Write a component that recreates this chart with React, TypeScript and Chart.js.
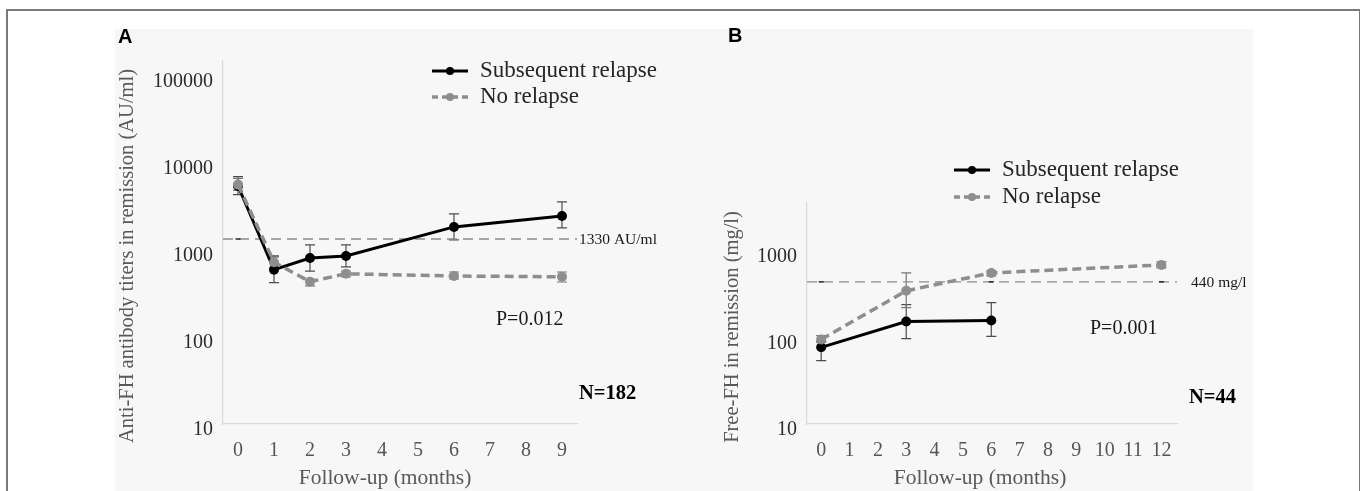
import React, { useEffect, useRef } from "react";
import { Chart, registerables } from "chart.js";

Chart.register(...registerables);

const SERIF = '"Liberation Serif", "Times New Roman", serif';
const SANS = '"Liberation Sans", Arial, sans-serif';

// ---------- Panel A data (anti-FH antibody titers, AU/ml) ----------
const xTicksA = [0, 1, 2, 3, 4, 5, 6, 7, 8, 9];
const yTicksA = [10, 100, 1000, 10000, 100000];
const monthsA = [0, 1, 2, 3, 6, 9];
const relapseA = [5400, 590, 805, 850, 1830, 2440];
const relapseALow = [4300, 420, 570, 635, 1300, 1780];
const relapseAHigh = [6900, 830, 1140, 1140, 2580, 3540];
const noRelapseA = [5600, 720, 430, 530, 500, 490];
const noRelapseALow = [4800, 620, 385, 487, 462, 427];
const noRelapseAHigh = [6600, 860, 462, 571, 556, 556];
const thresholdA = 1330;
const thresholdMarksA = [0];

// ---------- Panel B data (free FH, mg/l) ----------
const xTicksB = [0, 1, 2, 3, 4, 5, 6, 7, 8, 9, 10, 11, 12];
const yTicksB = [10, 100, 1000];
const monthsRelapseB = [0, 3, 6];
const relapseB = [77, 153, 157];
const relapseBLow = [54, 97, 103];
const relapseBHigh = [90, 240, 253];
const monthsNoRelapseB = [0, 3, 6, 12];
const noRelapseB = [95, 347, 558, 690];
const noRelapseBLow = [88, 221, 516, 638];
const noRelapseBHigh = [105, 558, 589, 748];
const thresholdB = 440;
const thresholdMarksB = [0, 6, 12];

const seriesLabels = ["Subsequent relapse", "No relapse"];

type Series = {
  label: string;
  months: number[];
  values: number[];
  low: number[];
  high: number[];
  color: string;
  dash: number[];
  width: number;
  errColor: string;
  order: number;
};

type Spec = {
  left: number;
  top: number;
  width: number;
  height: number;
  area: { left: number; right: number; top: number; bottom: number };
  xMin: number;
  xMax: number;
  xTicks: number[];
  yMin: number;
  yMax: number;
  yTicks: number[];
  series: Series[];
  threshold: number;
  thresholdMarks: number[];
  thresholdLabel: string;
  thresholdLabelPos: [number, number];
  letter: string;
  letterPos: [number, number];
  yTitle: string;
  yTitlePos: [number, number];
  xTitle: string;
  xTitlePos: [number, number];
  legendPos: [number, number];
  legendGap: number;
  pText: string;
  pPos: [number, number];
  nText: string;
  nPos: [number, number];
};

const BLACK = "#000000";
const GREY = "#8e8e8e";

const specA: Spec = {
  left: 112,
  top: 0,
  width: 603,
  height: 491,
  area: { left: 223, right: 577, top: 61, bottom: 424 },
  xMin: -0.417,
  xMax: 9.417,
  xTicks: xTicksA,
  yMin: 10,
  yMax: 147000,
  yTicks: yTicksA,
  series: [
    { label: seriesLabels[0], months: monthsA, values: relapseA, low: relapseALow, high: relapseAHigh, color: BLACK, dash: [], width: 3, errColor: "#4d4d4d", order: 1 },
    { label: seriesLabels[1], months: monthsA, values: noRelapseA, low: noRelapseALow, high: noRelapseAHigh, color: GREY, dash: [9, 5], width: 3.5, errColor: "#777777", order: 0 },
  ],
  threshold: thresholdA,
  thresholdMarks: thresholdMarksA,
  thresholdLabel: "1330 AU/ml",
  thresholdLabelPos: [579, 240],
  letter: "A",
  letterPos: [118, 37],
  yTitle: "Anti-FH antibody titers in remission (AU/ml)",
  yTitlePos: [128, 256],
  xTitle: "Follow-up (months)",
  xTitlePos: [385, 478],
  legendPos: [432, 71],
  legendGap: 26,
  pText: "P=0.012",
  pPos: [496, 320],
  nText: "N=182",
  nPos: [579, 394],
};

const specB: Spec = {
  left: 718,
  top: 0,
  width: 642,
  height: 491,
  area: { left: 807, right: 1177, top: 203, bottom: 424 },
  xMin: -0.5,
  xMax: 12.55,
  xTicks: xTicksB,
  yMin: 10,
  yMax: 3590,
  yTicks: yTicksB,
  series: [
    { label: seriesLabels[0], months: monthsRelapseB, values: relapseB, low: relapseBLow, high: relapseBHigh, color: BLACK, dash: [], width: 3, errColor: "#4d4d4d", order: 1 },
    { label: seriesLabels[1], months: monthsNoRelapseB, values: noRelapseB, low: noRelapseBLow, high: noRelapseBHigh, color: GREY, dash: [9, 5], width: 3.5, errColor: "#777777", order: 0 },
  ],
  threshold: thresholdB,
  thresholdMarks: thresholdMarksB,
  thresholdLabel: "440 mg/l",
  thresholdLabelPos: [1191, 283],
  letter: "B",
  letterPos: [728, 36],
  yTitle: "Free-FH in remission (mg/l)",
  yTitlePos: [733, 327],
  xTitle: "Follow-up (months)",
  xTitlePos: [980, 478],
  legendPos: [954, 170],
  legendGap: 27,
  pText: "P=0.001",
  pPos: [1090, 329],
  nText: "N=44",
  nPos: [1189, 398],
};

function buildConfig(spec: Spec): any {
  const ox = spec.left;
  const oy = spec.top;

  const thresholdPoints = [
    { x: spec.xMin, y: spec.threshold },
    ...spec.thresholdMarks.map((m) => ({ x: m, y: spec.threshold })),
    { x: spec.xMax, y: spec.threshold },
  ];

  const datasets: any[] = spec.series.map((s) => ({
    label: s.label,
    data: s.months.map((m, i) => ({ x: m, y: s.values[i] })),
    borderColor: s.color,
    backgroundColor: s.color,
    borderWidth: s.width,
    borderDash: s.dash,
    pointRadius: 5,
    pointBackgroundColor: s.color,
    pointBorderColor: s.color,
    pointBorderWidth: 0,
    tension: 0,
    fill: false,
    order: s.order,
  }));
  datasets.push({
    label: "threshold",
    data: thresholdPoints,
    borderColor: "#8c8c8c",
    borderWidth: 1.3,
    borderDash: [10, 6],
    pointStyle: "line",
    pointRadius: (ctx: any) => (ctx.dataIndex === 0 || ctx.dataIndex === thresholdPoints.length - 1 ? 0 : 2.5),
    pointBorderColor: "#222222",
    pointBorderWidth: 1.5,
    fill: false,
    order: 5,
  });

  const errorBars = {
    id: "errorBars" + spec.letter,
    beforeDatasetsDraw(chart: any) {
      const ctx = chart.ctx;
      const xs = chart.scales.x;
      const ys = chart.scales.y;
      ctx.save();
      ctx.setLineDash([]);
      spec.series.forEach((s) => {
        ctx.strokeStyle = s.errColor;
        ctx.lineWidth = 1.2;
        s.months.forEach((m, i) => {
          const x = xs.getPixelForValue(m);
          const yl = ys.getPixelForValue(s.low[i]);
          const yh = ys.getPixelForValue(s.high[i]);
          ctx.beginPath();
          ctx.moveTo(x, yl);
          ctx.lineTo(x, yh);
          ctx.moveTo(x - 5, yl);
          ctx.lineTo(x + 5, yl);
          ctx.moveTo(x - 5, yh);
          ctx.lineTo(x + 5, yh);
          ctx.stroke();
        });
      });
      ctx.restore();
    },
  };

  const texts = {
    id: "texts" + spec.letter,
    afterDraw(chart: any) {
      const ctx = chart.ctx;
      ctx.save();
      ctx.textBaseline = "middle";

      // panel letter
      ctx.fillStyle = "#000";
      ctx.font = `bold 20px ${SANS}`;
      ctx.textAlign = "left";
      ctx.fillText(spec.letter, spec.letterPos[0] - ox, spec.letterPos[1] - oy);

      // y title
      ctx.save();
      ctx.translate(spec.yTitlePos[0] - ox, spec.yTitlePos[1] - oy);
      ctx.rotate(-Math.PI / 2);
      ctx.textAlign = "center";
      ctx.fillStyle = "#595959";
      ctx.font = `20.5px ${SERIF}`;
      ctx.fillText(spec.yTitle, 0, 0);
      ctx.restore();

      // x title
      ctx.textAlign = "center";
      ctx.fillStyle = "#595959";
      ctx.font = `21.5px ${SERIF}`;
      ctx.fillText(spec.xTitle, spec.xTitlePos[0] - ox, spec.xTitlePos[1] - oy);

      // legend
      spec.series.forEach((s, i) => {
        const lx = spec.legendPos[0] - ox;
        const ly = spec.legendPos[1] - oy + i * spec.legendGap;
        ctx.save();
        ctx.strokeStyle = s.color;
        ctx.lineWidth = s.width;
        ctx.setLineDash(s.dash.length ? [6, 4] : []);
        ctx.beginPath();
        ctx.moveTo(lx, ly);
        ctx.lineTo(lx + 36, ly);
        ctx.stroke();
        ctx.setLineDash([]);
        ctx.fillStyle = s.color;
        ctx.beginPath();
        ctx.arc(lx + 18, ly, 4, 0, Math.PI * 2);
        ctx.fill();
        ctx.restore();
        ctx.textAlign = "left";
        ctx.fillStyle = "#262626";
        ctx.font = `23px ${SERIF}`;
        ctx.fillText(s.label, lx + 48, ly);
      });

      // threshold label
      ctx.textAlign = "left";
      ctx.fillStyle = "#1a1a1a";
      ctx.font = `15.5px ${SERIF}`;
      ctx.fillText(spec.thresholdLabel, spec.thresholdLabelPos[0] - ox, spec.thresholdLabelPos[1] - oy);

      // P value
      ctx.font = `20px ${SERIF}`;
      ctx.fillText(spec.pText, spec.pPos[0] - ox, spec.pPos[1] - oy);

      // N
      ctx.fillStyle = "#000";
      ctx.font = `bold 20.5px ${SERIF}`;
      ctx.fillText(spec.nText, spec.nPos[0] - ox, spec.nPos[1] - oy);

      ctx.restore();
    },
  };

  return {
    type: "line",
    data: { datasets },
    options: {
      animation: false,
      responsive: false,
      devicePixelRatio: 1,
      events: [],
      layout: {
        padding: {
          left: 0,
          top: spec.area.top - spec.top,
          right: spec.left + spec.width - spec.area.right,
          bottom: 0,
        },
      },
      plugins: {
        legend: { display: false },
        tooltip: { enabled: false },
        title: { display: false },
      },
      scales: {
        x: {
          type: "linear",
          min: spec.xMin,
          max: spec.xMax,
          afterBuildTicks: (s: any) => {
            s.ticks = spec.xTicks.map((v) => ({ value: v }));
          },
          afterFit: (s: any) => {
            s.height = spec.top + spec.height - spec.area.bottom;
          },
          grid: { display: false, drawTicks: false },
          border: { display: true, color: "#d9d9d9", width: 1.2 },
          ticks: {
            autoSkip: false,
            maxRotation: 0,
            padding: 15,
            color: "#555555",
            font: { family: SERIF, size: 20 },
            callback: (v: any) => String(v),
          },
        },
        y: {
          type: "logarithmic",
          min: spec.yMin,
          max: spec.yMax,
          afterBuildTicks: (s: any) => {
            s.ticks = spec.yTicks.map((v) => ({ value: v }));
          },
          afterFit: (s: any) => {
            s.width = spec.area.left - spec.left;
          },
          grid: { display: false, drawTicks: false },
          border: { display: true, color: "#d9d9d9", width: 1.2 },
          ticks: {
            autoSkip: false,
            padding: 10,
            labelOffset: 6,
            color: "#2b2b2b",
            font: { family: SERIF, size: 20 },
            callback: (v: any) => String(v),
          },
        },
      },
    },
    plugins: [errorBars, texts],
  };
}

function Panel({ spec }: { spec: Spec }) {
  const ref = useRef<HTMLCanvasElement | null>(null);
  useEffect(() => {
    if (!ref.current) return;
    const chart = new Chart(ref.current, buildConfig(spec));
    return () => chart.destroy();
  }, [spec]);
  return (
    <canvas
      ref={ref}
      width={spec.width}
      height={spec.height}
      style={{
        position: "absolute",
        left: spec.left,
        top: spec.top,
        width: spec.width,
        height: spec.height,
      }}
    />
  );
}

export default function App() {
  return (
    <div
      style={{
        position: "fixed",
        left: 0,
        top: 0,
        width: 1360,
        height: 491,
        background: "#ffffff",
        overflow: "hidden",
      }}
    >
      <div
        style={{
          position: "absolute",
          left: 115,
          top: 29,
          width: 1138,
          height: 470,
          background: "#f7f7f7",
        }}
      />
      <div
        style={{
          position: "absolute",
          left: 6,
          top: 9,
          width: 1351,
          height: 500,
          borderTop: "2px solid #7a7a7a",
          borderLeft: "2px solid #7a7a7a",
          borderRight: "2px solid #7a7a7a",
        }}
      />
      <Panel spec={specA} />
      <Panel spec={specB} />
    </div>
  );
}
